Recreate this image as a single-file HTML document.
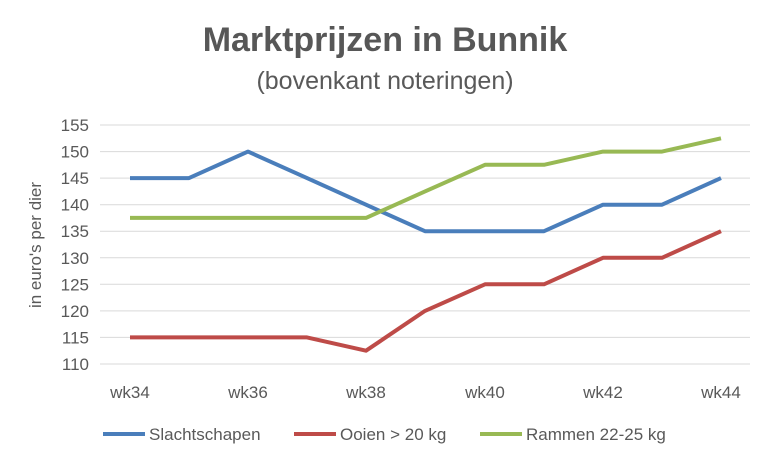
<!DOCTYPE html>
<html><head><meta charset="utf-8"><style>
body{margin:0;background:#fff;}
svg{display:block;font-family:"Liberation Sans",sans-serif;}
</style></head><body>
<svg width="770" height="462" viewBox="0 0 770 462">
<rect width="770" height="462" fill="#fff"/>
<text x="385" y="51" text-anchor="middle" font-size="34" font-weight="bold" fill="#575757">Marktprijzen in Bunnik</text>
<text x="385" y="89" text-anchor="middle" font-size="25" fill="#595959">(bovenkant noteringen)</text>
<g stroke="#d9d9d9" stroke-width="1">
<line x1="100" x2="750" y1="125" y2="125"/><line x1="100" x2="750" y1="151.6" y2="151.6"/>
<line x1="100" x2="750" y1="178.1" y2="178.1"/><line x1="100" x2="750" y1="204.7" y2="204.7"/>
<line x1="100" x2="750" y1="231.2" y2="231.2"/><line x1="100" x2="750" y1="257.8" y2="257.8"/>
<line x1="100" x2="750" y1="284.3" y2="284.3"/><line x1="100" x2="750" y1="310.9" y2="310.9"/>
<line x1="100" x2="750" y1="337.4" y2="337.4"/><line x1="100" x2="750" y1="364" y2="364"/>
</g>
<g font-size="17" fill="#595959" text-anchor="end">
<text x="89" y="131">155</text><text x="89" y="157.6">150</text><text x="89" y="184.1">145</text>
<text x="89" y="210.7">140</text><text x="89" y="237.2">135</text><text x="89" y="263.8">130</text>
<text x="89" y="290.3">125</text><text x="89" y="316.9">120</text><text x="89" y="343.4">115</text>
<text x="89" y="370">110</text>
</g>
<g font-size="17" fill="#595959" text-anchor="middle">
<text x="130" y="398">wk34</text><text x="248" y="398">wk36</text><text x="366" y="398">wk38</text>
<text x="485" y="398">wk40</text><text x="603" y="398">wk42</text><text x="721" y="398">wk44</text>
</g>
<text transform="translate(41,245) rotate(-90)" text-anchor="middle" font-size="17" fill="#595959">in euro's per dier</text>
<g fill="none" stroke-width="4" stroke-linejoin="round">
<polyline stroke="#4a7ebb" points="130,178.1 189,178.1 248,151.6 307,178.1 366,204.7 425,231.2 485,231.2 544,231.2 603,204.7 662,204.7 721,178.1"/>
<polyline stroke="#be4b48" points="130,337.4 189,337.4 248,337.4 307,337.4 366,350.7 425,310.9 485,284.3 544,284.3 603,257.8 662,257.8 721,231.2"/>
<polyline stroke="#98b954" points="130,217.9 189,217.9 248,217.9 307,217.9 366,217.9 425,191.4 485,164.8 544,164.8 603,151.6 662,151.6 721,138.3"/>
</g>
<g font-size="17" fill="#595959">
<line x1="103" x2="145" y1="434" y2="434" stroke="#4a7ebb" stroke-width="4"/>
<text x="149" y="440">Slachtschapen</text>
<line x1="294" x2="336" y1="434" y2="434" stroke="#be4b48" stroke-width="4"/>
<text x="340" y="440">Ooien &gt; 20 kg</text>
<line x1="480" x2="522" y1="434" y2="434" stroke="#98b954" stroke-width="4"/>
<text x="526" y="440">Rammen 22-25 kg</text>
</g>
</svg>
</body></html>
